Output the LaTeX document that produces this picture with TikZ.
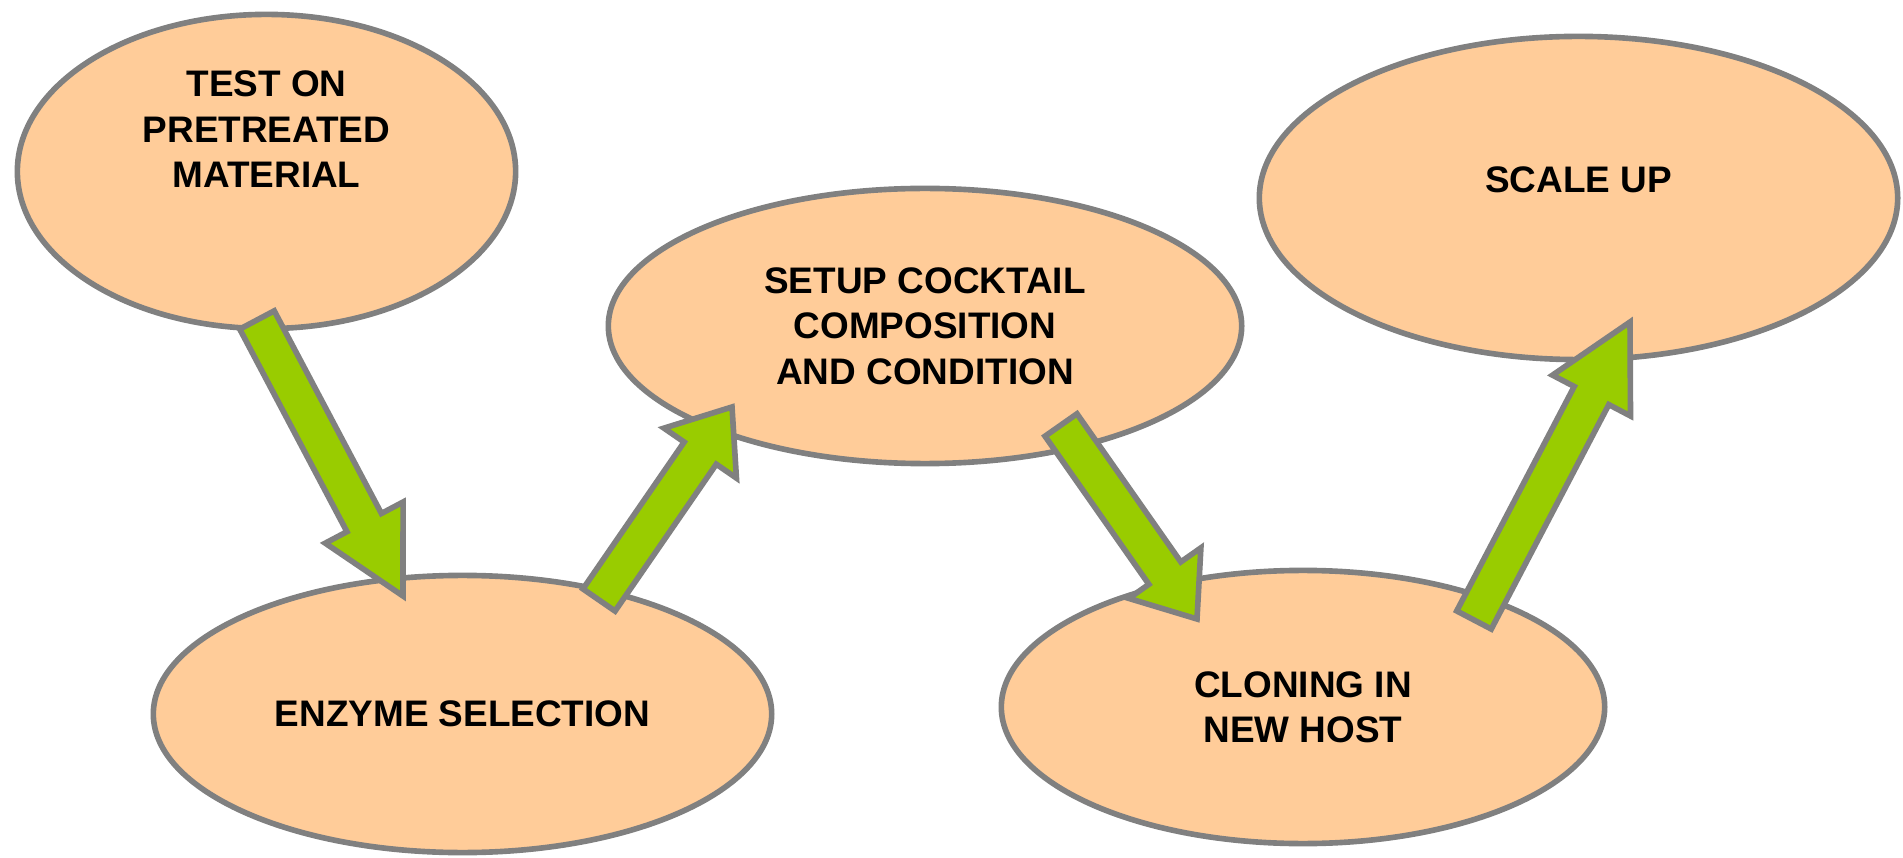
\documentclass[tikz,border=0pt]{standalone}
\usepackage{fontspec}
\setmainfont{Liberation Sans}
\usepackage{xcolor}
\usepackage{tikz}
\usetikzlibrary{shapes.geometric, calc}
\definecolor{peach}{HTML}{FFCC99}
\definecolor{leafgreen}{HTML}{99CC00}
\definecolor{edgegray}{HTML}{808080}
\tikzstyle{stage} = [ellipse, draw=edgegray, line width=1.6pt, fill=peach, inner sep=0pt, align=center, font=\bfseries\fontsize{10.5}{12.9}\selectfont]
\tikzstyle{bigarrow} = [draw=edgegray, line width=1.6pt, fill=leafgreen, line join=miter]
\newcommand{\blockarrow}[3]{%
    \draw[bigarrow] ($(#1)!0.195cm!90:(#2)$)
        -- ($(#2)!#3!(#1)!0.195cm!-90:(#1)$) -- ($(#2)!#3!(#1)!0.44cm!-90:(#1)$)
        -- (#2)
        -- ($(#2)!#3!(#1)!0.44cm!90:(#1)$) -- ($(#2)!#3!(#1)!0.195cm!90:(#1)$)
        -- ($(#1)!0.195cm!-90:(#2)$) -- cycle;}

\begin{document}
\begin{tikzpicture}[x=0.01cm, y=-0.01cm]
    \useasboundingbox (0,0) rectangle (1903,858);
    \node[stage, minimum width=4.98cm, minimum height=3.14cm, text depth=0.84cm] (test) at (266.5,171.5) {TEST ON\\PRETREATED\\MATERIAL};
    \node[stage, minimum width=6.18cm, minimum height=2.77cm] (enzyme) at (462.5,714) {ENZYME SELECTION};
    \node[stage, minimum width=6.33cm, minimum height=2.75cm] (cocktail) at (925,326) {SETUP COCKTAIL\\COMPOSITION\\AND CONDITION};
    \node[stage, minimum width=6.03cm, minimum height=2.73cm] (cloning) at (1303,707) {CLONING IN\\NEW HOST};
    \node[stage, minimum width=6.38cm, minimum height=3.23cm, text depth=0.36cm] (scaleup) at (1578.5,198) {SCALE UP};

    \coordinate (testout) at (257,320);
    \coordinate (enzymein) at (403,596);
    \coordinate (enzymeout) at (599,600);
    \coordinate (cocktailin) at (732,407);
    \coordinate (cocktailout) at (1061,425);
    \coordinate (cloningin) at (1197,619);
    \coordinate (cloningout) at (1474,620);
    \coordinate (scaleupin) at (1630,322);

    \blockarrow{testout}{enzymein}{0.83cm}
    \blockarrow{enzymeout}{cocktailin}{0.56cm}
    \blockarrow{cocktailout}{cloningin}{0.56cm}
    \blockarrow{cloningout}{scaleupin}{0.83cm}
\end{tikzpicture}
\end{document}
